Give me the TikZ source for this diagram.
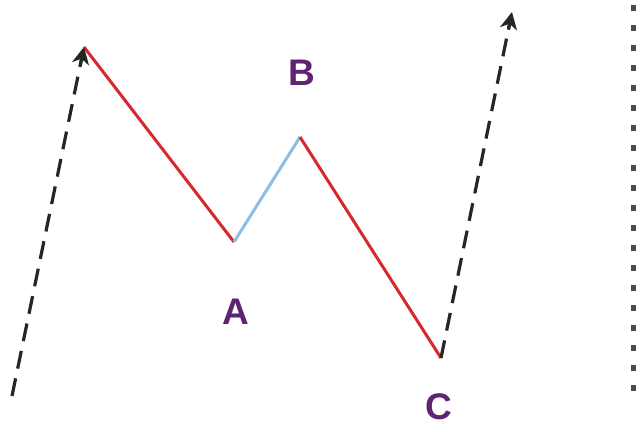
\documentclass[tikz,border=0pt]{standalone}
\usepackage{fontspec}
\setmainfont{Liberation Sans}
\usetikzlibrary{arrows.meta,calc}
\definecolor{wred}{RGB}{215,40,45}
\definecolor{wblue}{RGB}{140,190,230}
\definecolor{wpurple}{RGB}{95,35,115}
\tikzset{
  leg/.style={line width=3pt},
  guide/.style={line width=3.2pt, black!85, dash pattern=on 18pt off 10pt, shorten >=14pt},
  guidetip/.style={line width=3.2pt, black!85, solid, -{Stealth[length=17pt,width=17pt,inset=5pt]}},
  lbl/.style={text=wpurple, font=\fontsize{37}{37}\selectfont\bfseries, inner sep=0pt},
  dotline/.style={line width=5pt, black!70, dash pattern=on 6pt off 14pt}
}
\begin{document}
\begin{tikzpicture}[x=1pt,y=-1pt]
\useasboundingbox (0,0) rectangle (641,433);
\coordinate (s0) at (12,396);
\coordinate (p0) at (84,47);
\coordinate (a) at (234,242);
\coordinate (b) at (300,137);
\coordinate (c) at (441,358);
\coordinate (t1) at (512,12);
\coordinate (d0) at (633,5);
\coordinate (d1) at (633,392);
\coordinate (h0) at ($(p0)!18pt!(s0)$);
\coordinate (h1) at ($(t1)!18pt!(c)$);
\draw[leg, wred] (p0) -- (a);
\draw[leg, wblue] (a) -- (b);
\draw[leg, wred] (b) -- (c);
\draw[guide] (s0) -- (p0);
\draw[guidetip] (h0) -- (p0);
\draw[guide] (c) -- (t1);
\draw[guidetip] (h1) -- (t1);
\draw[dotline] (d0) -- (d1);
\node[lbl] (la) at (236,312) {A};
\node[lbl] (lb) at (302,73) {B};
\node[lbl] (lc) at (439,407) {C};
\end{tikzpicture}
\end{document}
